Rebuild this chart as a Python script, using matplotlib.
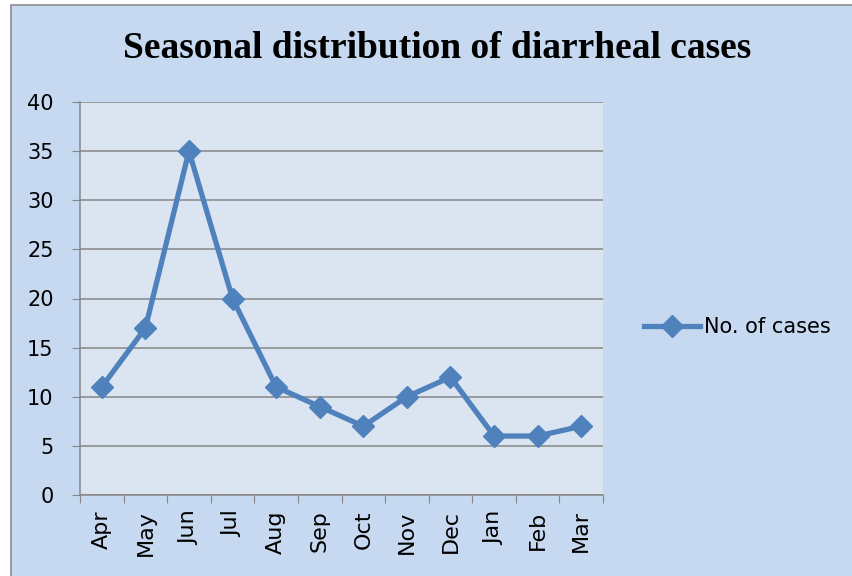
import matplotlib
matplotlib.use("Agg")
from matplotlib import pyplot as plt
from matplotlib.patches import Rectangle

months = ['Apr', 'May', 'Jun', 'Jul', 'Aug', 'Sep', 'Oct', 'Nov', 'Dec', 'Jan', 'Feb', 'Mar']
cases = [11, 17, 35, 20, 11, 9, 7, 10, 12, 6, 6, 7]
y_ticks = [0, 5, 10, 15, 20, 25, 30, 35, 40]

blue = '#4F81BD'
grid_col = '#868686'

fig = plt.figure(figsize=(8.52, 5.76), dpi=100, facecolor='white')
# outer chart area with border
fig.patches.append(Rectangle((10.5/852, -0.1), 1.0, 1 - 5/576 + 0.1, transform=fig.transFigure,
                             facecolor='#C6D9F0', edgecolor='#8C8C8C', linewidth=1.2, zorder=-5))

ax = fig.add_axes([80/852, 1 - 495/576, (603 - 80)/852, (495 - 102)/576])
ax.set_facecolor('#DBE5F1')

x = list(range(len(months)))
ax.plot(x, cases, color=blue, linewidth=3.8, marker='D', markersize=11.5,
        markerfacecolor=blue, markeredgecolor=blue, label='No. of cases', clip_on=False)

ax.set_xlim(-0.5, len(months) - 0.5)
ax.set_ylim(0, 40)
ax.set_yticks(y_ticks)
ax.set_xticks([i - 0.5 for i in range(len(months) + 1)], minor=False)
ax.set_xticklabels([])
ax.set_xticks(x, minor=True)
ax.set_xticklabels(months, minor=True, rotation=90, fontsize=16, family='DejaVu Sans')
ax.tick_params(axis='x', which='minor', length=0, pad=11)
ax.tick_params(axis='x', which='major', length=6, color=grid_col, direction='out')
ax.tick_params(axis='y', length=6, color=grid_col, labelsize=15, pad=13)

ax.grid(axis='y', color=grid_col, linewidth=1.1)
ax.set_axisbelow(True)
for s in ['top', 'right']:
    ax.spines[s].set_visible(False)
for s in ['left', 'bottom']:
    ax.spines[s].set_color(grid_col)
    ax.spines[s].set_linewidth(1.1)

fig.text(437/852, 1 - 48/576, 'Seasonal distribution of diarrheal cases', ha='center', va='center',
         fontsize=27, fontweight='bold', family='Liberation Serif')

fig.legend(loc='center left', bbox_to_anchor=(625/852, 1 - 327/576), frameon=False,
           prop={'family': 'DejaVu Sans', 'size': 15}, handlelength=2.7, handletextpad=0.2)

fig.savefig('out.png', dpi=100)
